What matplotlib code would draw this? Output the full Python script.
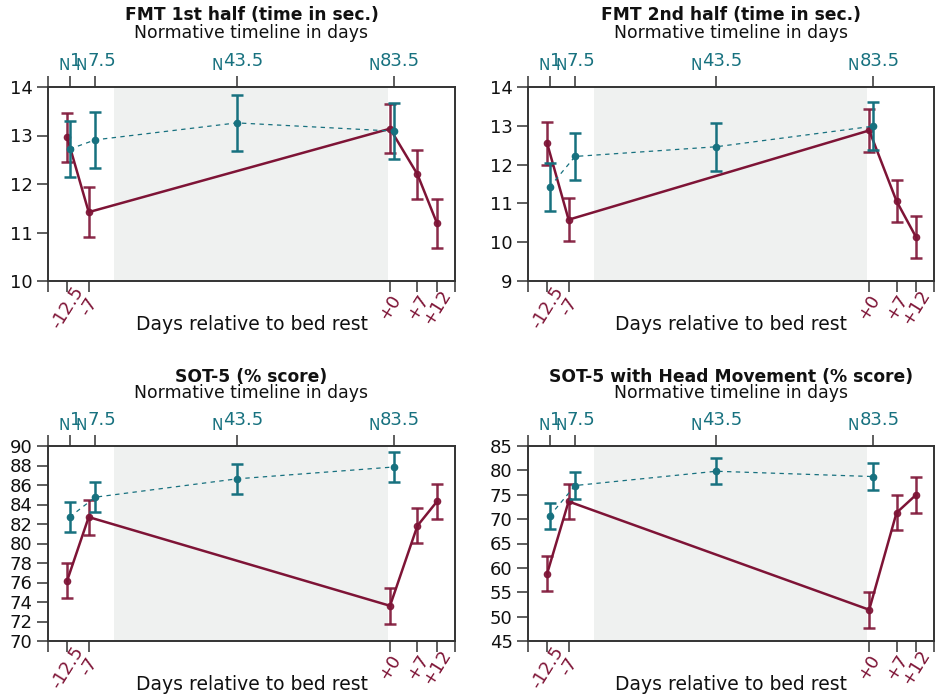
import matplotlib
matplotlib.use('Agg')
import matplotlib.pyplot as plt

# ---------------- data ----------------
MAROON = '#7e1436'
TEAL = '#17717f'
SHADE = '#eff1f0'

bedrest_length = 70
pre_days = [-12.5, -7]
post_days = [0, 7, 12]
bedrest_labels = ['-12.5', '-7', '+0', '+7', '+12']
normative_days = [1, 7.5, 43.5, 83.5]

titles = ['FMT 1st half (time in sec.)',
          'FMT 2nd half (time in sec.)',
          'SOT-5 (% score)',
          'SOT-5 with Head Movement (% score)']

br_mean_fmt1 = [12.96, 11.42, 13.14, 12.20, 11.19]
br_err_fmt1 = [0.51, 0.51, 0.51, 0.51, 0.51]
nm_mean_fmt1 = [12.72, 12.91, 13.26, 13.09]
nm_err_fmt1 = [0.575, 0.575, 0.57, 0.575]

br_mean_fmt2 = [12.55, 10.58, 12.88, 11.06, 10.13]
br_err_fmt2 = [0.55, 0.555, 0.545, 0.55, 0.55]
nm_mean_fmt2 = [11.42, 12.21, 12.46, 12.99]
nm_err_fmt2 = [0.61, 0.615, 0.615, 0.625]

br_mean_sot5 = [76.20, 82.71, 73.61, 81.82, 84.31]
br_err_sot5 = [1.80, 1.80, 1.82, 1.80, 1.80]
nm_mean_sot5 = [82.71, 84.75, 86.63, 87.85]
nm_err_sot5 = [1.52, 1.55, 1.55, 1.58]

br_mean_sot5hm = [58.83, 73.62, 51.41, 71.30, 74.98]
br_err_sot5hm = [3.60, 3.65, 3.65, 3.60, 3.65]
nm_mean_sot5hm = [70.62, 76.89, 79.82, 78.73]
nm_err_sot5hm = [2.69, 2.72, 2.69, 2.76]

ylims = [(10, 14), (9, 14), (70, 90), (45, 85)]
ysteps = [1, 1, 2, 5]

panels = [
    (br_mean_fmt1, br_err_fmt1, nm_mean_fmt1, nm_err_fmt1),
    (br_mean_fmt2, br_err_fmt2, nm_mean_fmt2, nm_err_fmt2),
    (br_mean_sot5, br_err_sot5, nm_mean_sot5, nm_err_sot5),
    (br_mean_sot5hm, br_err_sot5hm, nm_mean_sot5hm, nm_err_sot5hm),
]

# ---------------- figure ----------------
plt.rcParams['font.family'] = ['DejaVu Sans']

W, H = 935, 696
fig = plt.figure(figsize=(W / 100, H / 100), dpi=100)
rend = fig.canvas.get_renderer()

# axes boxes in pixels: (left, top, right, bottom)
boxes = [(48, 87, 455, 281), (528, 87, 934, 281),
         (48, 446, 455, 641), (528, 446, 934, 641)]

br_x = pre_days + [d + bedrest_length for d in post_days]
br_xlim = (-17.4, 86.6)
nm_xlim = (-4.5, 99.0)

SPINE = '#333333'
TXT = '#111111'

for i, (box, (bm, be, nm, ne)) in enumerate(zip(boxes, panels)):
    l, t, r, b = box
    ax = fig.add_axes([l / W, 1 - b / H, (r - l) / W, (b - t) / H])
    ax2 = ax.twiny()
    for a in (ax, ax2):
        for s in a.spines.values():
            s.set_color(SPINE)
            s.set_linewidth(1.2)

    ax.axvspan(-0.5, bedrest_length - 0.5, color=SHADE, lw=0, zorder=0)

    # bed rest series (bottom axis)
    ax.plot(br_x, bm, color=MAROON, lw=1.8, zorder=3)
    ax.errorbar(br_x, bm, yerr=be, fmt='o', color=MAROON, ms=4.5,
                elinewidth=1.8, capsize=4.2, capthick=1.8, alpha=0.9, zorder=3)

    # normative series (top axis)
    ax2.plot(normative_days, nm, color=TEAL, lw=0.9, ls=(0, (3.5, 3.5)), zorder=2)
    ax2.errorbar(normative_days, nm, yerr=ne, fmt='o', color=TEAL, ms=4.5,
                 elinewidth=1.8, capsize=4.2, capthick=1.8, zorder=2)

    ax.set_xlim(*br_xlim)
    ax2.set_xlim(*nm_xlim)
    y0, y1 = ylims[i]
    ax.set_ylim(y0, y1)
    yt = list(range(y0, y1 + 1, ysteps[i]))
    ax.set_yticks(yt)
    ax.set_yticklabels([str(v) for v in yt])

    ax.set_xticks(br_x + list(br_xlim))
    ax.set_xticklabels(bedrest_labels + ['', ''], rotation=58, ha='center',
                       va='center', rotation_mode='anchor', color=MAROON,
                       fontsize=13)
    ax2.set_xticks(normative_days + [nm_xlim[0]])
    ax2.set_xticklabels([''] * (len(normative_days) + 1))

    ax.tick_params(axis='x', direction='out', length=8, width=1.1, color=SPINE, pad=10.8)
    ax.tick_params(axis='y', direction='out', length=8, width=1.1, color=SPINE,
                   pad=3, labelsize=13, labelcolor=TXT)
    ax2.tick_params(axis='x', direction='out', length=8, width=1.1, color=SPINE)
    ax2.tick_params(axis='y', left=False, right=False, labelleft=False, labelright=False)

    # normative tick labels: lowered "N" followed by the day number, centred on the tick
    for d in normative_days:
        tn = ax2.annotate('N', xy=(d, 1), xycoords=('data', 'axes fraction'),
                          xytext=(0, 16.5), textcoords='offset pixels',
                          ha='right', va='baseline', fontsize=11, color=TEAL,
                          annotation_clip=False)
        tv = ax2.annotate(f'{d:g}', xy=(d, 1), xycoords=('data', 'axes fraction'),
                          xytext=(0, 21), textcoords='offset pixels',
                          ha='left', va='baseline', fontsize=13, color=TEAL,
                          annotation_clip=False)
        wN = tn.get_window_extent(rend).width
        wV = tv.get_window_extent(rend).width
        split = -(wV - wN) / 2.0
        tn.xyann = (split + 0.5, 16.5)
        tv.xyann = (split + 0.5, 21)

    hpx = b - t
    ax.set_xlabel('Days relative to bed rest', fontsize=13.5, color=TXT)
    ax.xaxis.set_label_coords(0.5, (b - (324 if i < 2 else 684)) / hpx)
    ax.xaxis.label.set_va('center')

    sub_y = 33 if i < 2 else 393
    ttl_y = 15 if i < 2 else 377
    ax.text(0.5, (b - sub_y) / hpx, 'Normative timeline in days', transform=ax.transAxes,
            ha='center', va='center', fontsize=12.4, color=TXT)
    ax.text(0.5, (b - ttl_y) / hpx, titles[i], transform=ax.transAxes,
            ha='center', va='center', fontsize=12.3, fontweight='bold', color=TXT)

fig.savefig('out.png', dpi=100)
